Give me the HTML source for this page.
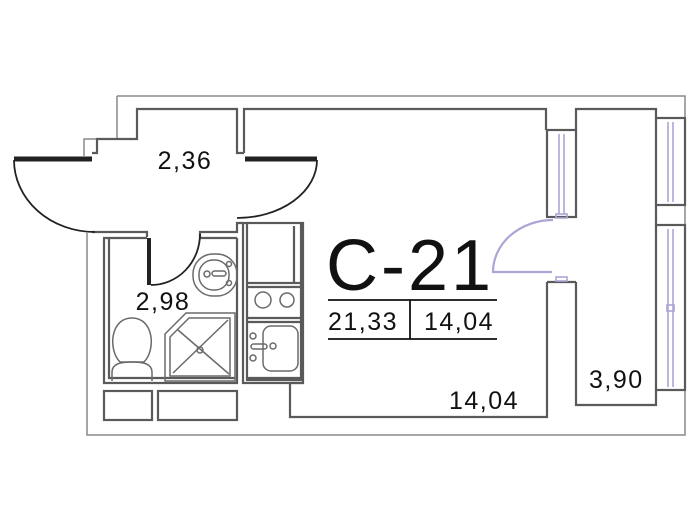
<!DOCTYPE html>
<html><head><meta charset="utf-8"><style>
html,body{margin:0;padding:0;background:#fff;width:700px;height:532px;overflow:hidden}
svg{display:block}
text{font-family:"Liberation Sans","DejaVu Sans",sans-serif;fill:#111}
</style></head><body>
<svg width="700" height="532" viewBox="0 0 700 532">
<g fill="none" stroke="#8a8a8a" stroke-width="1.5">
<path d="M117,96 H685 V435 H87 V233"/>
<path d="M117,96 V139 H84 V156"/>
</g>
<g fill="none" stroke="#5a5a5a" stroke-width="2.2">
<path d="M92,153 H97 V139 H137 V109 H237 V153 H244"/>
<path d="M244,153 V109 H546 V130"/>
<path d="M576,130 V109 H656 V118"/>
<path d="M656,205 V225"/>
<path d="M656,390 V405 H576 V282"/>
<rect x="547" y="130" width="29" height="87"/>
<rect x="656" y="118" width="29" height="87"/>
<rect x="656" y="225" width="29" height="165"/>
<path d="M547,282 V417 H290 V383"/>
<path d="M547,282 H576"/>
<path d="M92,232 H147 V237"/>
<path d="M200,237 V232 H237 V223 H243"/>
<path d="M103,238 H147 M200,238 H237"/>
<path d="M104,238 V383 H237 V238"/>
<path d="M109,238 V378 H235"/>
<rect x="104" y="391" width="48" height="29"/>
<rect x="158" y="391" width="79" height="29"/>
<rect x="243" y="223" width="60" height="160"/>
<path d="M247,223 V380 H301 V223"/>
<path d="M247,283 H301 M247,318 H301 M247,287 H301 M247,322 H301 M294,226 V283 M247,378 H301"/>
<path d="M290,383 H303"/>
</g>
<g fill="none" stroke="#6a6a6a" stroke-width="1.5">
<circle cx="263" cy="300" r="8"/><circle cx="287" cy="300" r="7"/>
<rect x="263" y="326" width="35" height="45" rx="8"/>
<rect x="251" y="344" width="16" height="5" rx="2.5"/>
<circle cx="253" cy="336" r="3"/><circle cx="253" cy="358" r="3"/><circle cx="273" cy="346" r="3"/>
<rect x="193" y="254" width="44" height="42" rx="20"/>
<rect x="199" y="260" width="30" height="30" rx="14"/>
<rect x="212" y="271" width="14" height="5" rx="2.5"/>
<circle cx="207" cy="274" r="3"/><circle cx="229" cy="264" r="2.5"/><circle cx="229" cy="283" r="2.5"/>
<path d="M186,313 H235 V381 H165 V334 Z"/>
<path d="M189,318 H230 V376 H170 V337 Z"/>
<path d="M173,373 L228,320 M178,330 L229,374"/>
<circle cx="200" cy="350" r="3"/>
<path d="M120,362 C108,350 110,318 132,318 C154,318 156,350 144,362 Z"/>
<path d="M112,381 V372 C112,364 120,362 132,362 C144,362 152,364 152,372 V381"/>
</g>
<g fill="none" stroke="#222">
<path d="M14,159 H92" stroke-width="5"/>
<path d="M245,159 H317" stroke-width="5"/>
<path d="M149,238 V285" stroke-width="4"/>
<path d="M14,160 A81,72 0 0 0 95,232" stroke-width="1.8"/>
<path d="M317,160 A80,58 0 0 1 237,218" stroke-width="1.8"/>
<path d="M151,285 A49,51 0 0 0 200,234" stroke-width="1.8"/>
</g>
<g fill="none" stroke="#aaa6d6" stroke-width="1.6">
<path d="M553,220 A60,52 0 0 0 493,272 H552" stroke-width="2.2"/>
<path d="M559,134 V214 M564,134 V214"/>
<path d="M668,122 V202 M673,122 V202"/>
<path d="M668,229 V387 M673,229 V387"/>
<rect x="556" y="214" width="11" height="4"/>
<rect x="556" y="277" width="11" height="4"/>
<rect x="667" y="305" width="7" height="6"/>
</g>
<g font-size="25" letter-spacing="1.5">
<text x="185" y="169" text-anchor="middle">2,36</text>
<text x="163" y="310" text-anchor="middle">2,98</text>
<text x="328" y="330">21,33</text>
<text x="424" y="330">14,04</text>
<text x="449" y="409">14,04</text>
<text x="589" y="388">3,90</text>
</g>
<text x="326" y="290" font-size="72" letter-spacing="3">C-21</text>
<path d="M328,300 H497 M328,339 H497 M410,300 V339" stroke="#111" stroke-width="1.8"/>
</svg>
</body></html>
